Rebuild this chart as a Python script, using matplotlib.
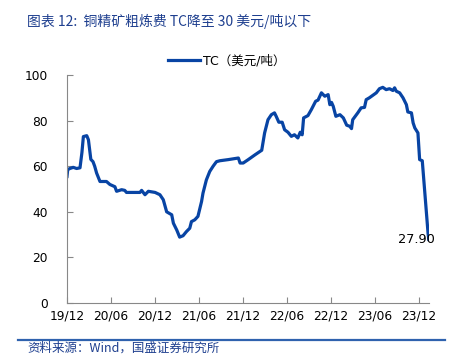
import numpy as np
import pandas as pd
import matplotlib
matplotlib.use("Agg")
import matplotlib.pyplot as plt
import matplotlib.dates as mdates

plt.rcParams['font.family'] = ['DejaVu Sans', 'Noto Sans CJK SC']

# TC weekly series (USD/t)
dates = [
    "2019-12-01", "2019-12-04", "2019-12-13", "2019-12-27", "2020-01-10", "2020-01-24",
    "2020-02-01", "2020-02-07", "2020-02-21", "2020-02-28", "2020-03-09", "2020-03-18",
    "2020-03-25", "2020-04-02", "2020-04-16", "2020-05-13", "2020-05-27", "2020-06-17",
    "2020-06-24", "2020-07-15", "2020-07-28", "2020-08-04", "2020-09-29", "2020-10-06",
    "2020-10-20", "2020-11-03", "2020-12-01", "2020-12-21", "2021-01-04", "2021-01-18",
    "2021-02-08", "2021-02-15", "2021-03-01", "2021-03-13", "2021-03-27", "2021-04-10",
    "2021-04-24", "2021-05-01", "2021-05-15", "2021-05-28", "2021-06-12", "2021-06-18",
    "2021-07-02", "2021-07-16", "2021-07-30", "2021-08-13", "2021-08-27", "2021-10-01",
    "2021-11-12", "2021-11-19", "2021-12-02", "2021-12-23", "2022-01-20", "2022-02-17",
    "2022-03-01", "2022-03-15", "2022-03-29", "2022-04-11", "2022-04-18", "2022-04-29",
    "2022-05-13", "2022-05-23", "2022-06-06", "2022-06-20", "2022-07-03", "2022-07-17",
    "2022-07-27", "2022-08-04", "2022-08-10", "2022-08-28", "2022-09-11", "2022-09-29",
    "2022-10-09", "2022-10-23", "2022-11-06", "2022-11-20", "2022-11-27", "2022-12-04",
    "2022-12-11", "2022-12-22", "2023-01-08", "2023-01-22", "2023-02-05", "2023-02-18",
    "2023-02-25", "2023-03-02", "2023-03-23", "2023-04-06", "2023-04-20", "2023-04-27",
    "2023-05-10", "2023-06-08", "2023-06-21", "2023-07-05", "2023-07-19", "2023-08-02",
    "2023-08-16", "2023-08-23", "2023-08-30", "2023-09-13", "2023-09-27", "2023-10-11",
    "2023-10-17", "2023-11-01", "2023-11-08", "2023-11-15", "2023-11-28", "2023-12-05",
    "2023-12-16", "2024-01-09", "2024-01-12",
]
tc = [
    55.5, 58.5, 59.0, 59.5, 59.0, 59.3,
    66.0, 73.0, 73.4, 71.6, 63.0, 62.0,
    60.0, 57.0, 53.3, 53.3, 52.0, 51.0,
    49.0, 49.7, 49.4, 48.5, 48.5, 49.4,
    47.5, 49.0, 48.5, 47.5, 45.3, 40.0,
    38.7, 35.0, 32.0, 28.9, 29.5, 31.3,
    32.8, 35.7, 36.5, 38.0, 44.5, 48.2,
    54.0, 57.7, 60.0, 62.0, 62.4, 62.9,
    63.6, 61.4, 61.4, 62.9, 65.0, 67.0,
    74.6, 80.4, 82.6, 83.4, 81.9, 79.3,
    79.3, 76.0, 74.9, 73.1, 73.8, 72.4,
    74.9, 73.8, 81.2, 82.2, 84.8, 88.5,
    89.0, 92.2, 90.7, 91.4, 87.0, 88.0,
    86.3, 81.9, 82.6, 81.2, 78.0, 77.5,
    76.5, 80.4, 83.4, 85.6, 85.8, 89.2,
    90.0, 92.2, 94.0, 94.6, 93.6, 94.0,
    93.2, 94.4, 92.9, 92.2, 90.0, 87.0,
    83.8, 83.4, 79.0, 76.8, 74.6, 62.9,
    62.4, 30.6, 27.9,
]
tick_dates = ["2019-12-01", "2020-06-01", "2020-12-01", "2021-06-01", "2021-12-01",
              "2022-06-01", "2022-12-01", "2023-06-01", "2023-12-01"]
last_label = "27.90"

df = pd.DataFrame({"date": pd.to_datetime(dates), "tc": tc})

BLUE = "#0844A4"
fig = plt.figure(figsize=(4.64, 3.59), dpi=100)
ax = fig.add_axes([0.1444, 0.156, 0.7802, 0.635])
ax.plot(df.date, df.tc, color=BLUE, lw=2.3, label="TC（美元/吨）", solid_joinstyle="round")
ax.set_ylim(0, 100)
ax.set_xlim(pd.Timestamp("2019-12-01"), pd.Timestamp("2024-01-13"))
ax.set_yticks(range(0, 101, 20))
ax.set_xticks(pd.to_datetime(tick_dates))
ax.xaxis.set_major_formatter(mdates.DateFormatter("%y/%m"))
for s in ("top", "right"):
    ax.spines[s].set_visible(False)
for s in ("left", "bottom"):
    ax.spines[s].set_color("#888888")
    ax.spines[s].set_linewidth(0.8)
ax.tick_params(direction="in", length=4, width=0.8, color="#888888", labelsize=8.8, pad=5)
ax.tick_params(axis="y", pad=14)

ax.annotate(last_label, (df.date.iloc[-1], df.tc.iloc[-1]), xytext=(-9, 0),
            textcoords="offset points", ha="center", va="center", fontsize=9.3)

ax.legend(loc="upper center", bbox_to_anchor=(0.44, 1.14), frameon=False, fontsize=9,
          handlelength=2.6, handletextpad=0.2)

TITLE_BLUE = "#1E3F8F"
fig.text(0.058, 0.94, "图表 12:  铜精矿粗炼费 TC降至 30 美元/吨以下", fontsize=10, style="italic",
         color=TITLE_BLUE, va="center", family=["Noto Sans CJK SC", "DejaVu Sans"])
fig.add_artist(plt.Line2D([0.039, 0.959], [1 - 340 / 359] * 2, transform=fig.transFigure,
                          color="#2F62AE", lw=1.6))
fig.text(0.060, 1 - 348 / 359, "资料来源：Wind，国盛证券研究所", fontsize=9, style="italic",
         color=TITLE_BLUE, va="center", family=["Noto Sans CJK SC", "DejaVu Sans"])

fig.savefig("out.png", dpi=100)
